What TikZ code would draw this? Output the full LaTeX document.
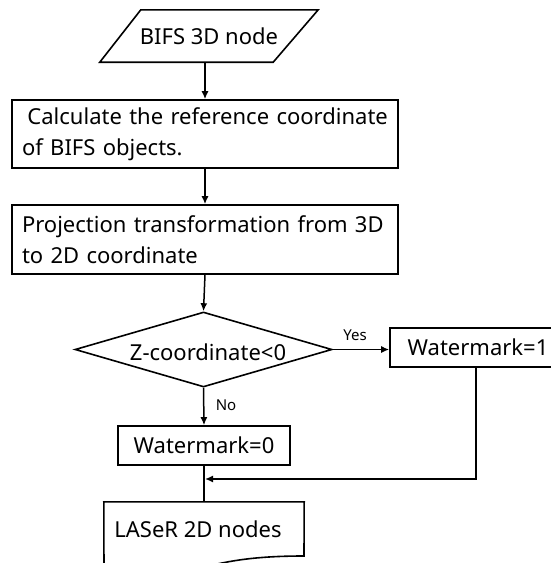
\documentclass[tikz,border=0pt]{standalone}
\usepackage{fontspec}
\setmainfont{Noto Sans}
\usetikzlibrary{shapes.geometric,arrows.meta,calc}
\begin{document}
\begin{tikzpicture}[x=1pt,y=-1pt,
  every node/.style={font=\fontsize{22pt}{31pt}\selectfont},
  line/.style={line width=1.5pt},
  arr/.style={line width=1.5pt,-{Latex[length=8pt,width=7pt]}},
  box/.style={draw,line width=1.6pt,rectangle,inner sep=0pt},
  lbl/.style={font=\fontsize{15pt}{18pt}\selectfont,inner sep=0pt}]
\useasboundingbox (0,0) rectangle (550,563);
% input parallelogram
\node[inner sep=0pt,minimum width=218pt,minimum height=52pt] (in) at (209,36) {BIFS 3D node};
\draw[line width=1.6pt,line join=miter]
  ($(in.north west)+(41pt,0)$) -- (in.north east) -- ($(in.south east)-(45pt,0)$)
  -- (in.south west) -- cycle;
% process boxes
\node[box,text width=366pt,inner xsep=10pt,align=left,minimum height=68pt] (b1) at (205,134)
  {\hspace{0.25em}Calculate the reference coordinate\\of BIFS objects.};
\node[box,text width=366pt,inner xsep=10pt,align=left,minimum height=69pt] (b2) at (205,239.5)
  {Projection transformation from 3D\\to 2D coordinate};
% decision
\node[draw,line width=1.6pt,diamond,inner sep=0pt,minimum width=257pt,minimum height=75pt] (d) at (203.5,349.5) {};
\node[inner sep=0pt] (dt) at (208,352) {Z-coordinate<0};
% results
\node[box,minimum width=176pt,minimum height=39pt] (w1) at (478,347.5) {Watermark=1};
\node[box,minimum width=172pt,minimum height=39pt] (w0) at (204,445.5) {Watermark=0};
% output document
\node[inner sep=0pt,minimum width=200pt,minimum height=54pt] (out) at (204,529) {\hspace{-12pt}LASeR 2D nodes};
\draw[line width=1.6pt] (out.north west) -- (out.north east) -- (304,556)
  .. controls (265,556) and (235,559) .. (205,567)
  .. controls (170,576) and (130,578) .. (104,572) -- cycle;
% connectors
\coordinate (j) at (205,479);
\draw[arr] (in.south -| b1.north) -- (b1.north);
\draw[arr] (b1.south) -- (b2.north);
\draw[arr] (b2.south) -- (d.north);
\draw[arr] (d.east) -- (d.east -| w1.west);
\draw[arr] (d.south) -- (w0.north);
\draw[line] (w0.south) -- (out.north);
\draw[arr] (w1.south -| 476,0) |- (j);
% labels
\node[lbl] (yes) at (355,335) {Yes};
\node[lbl] (no) at (226,405) {No};
\end{tikzpicture}
\end{document}
